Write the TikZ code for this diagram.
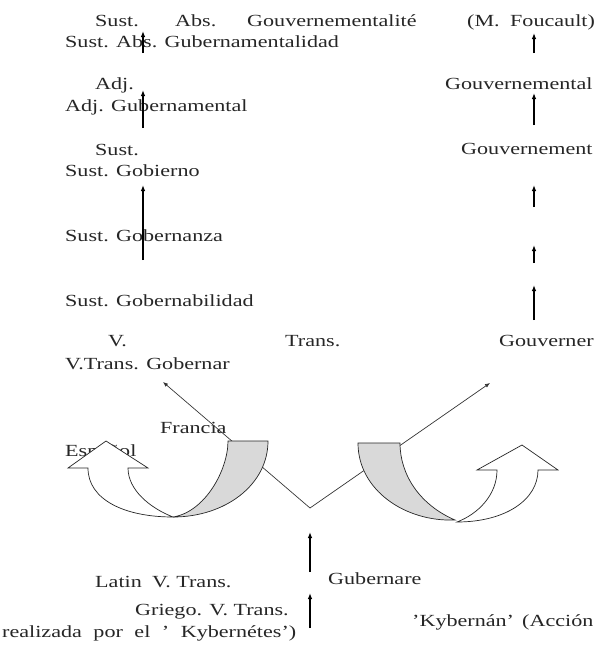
\documentclass[tikz,border=0pt]{standalone}
\usepackage{fontspec}
\setmainfont{Liberation Serif}[FakeStretch=1.3]
\usepackage{tikz}
\usetikzlibrary{arrows.meta}
\tikzset{lbl/.style={anchor=base west, inner sep=0pt, text=black!85, font=\fontsize{17}{20}\selectfont},
    uparr/.style={-{Latex[length=6pt,width=4.5pt]}, line width=1.1pt},
    vline/.style={{Latex[length=5pt,width=4pt]}-{Latex[length=5pt,width=4pt]}, line width=.7pt, black!80},
    band/.style={draw=black!85, line width=.7pt, fill=black!15},
    shaft/.style={draw=black!85, line width=.7pt, fill=white}}

\begin{document}
\begin{tikzpicture}[x=1pt,y=-1pt]
                 \useasboundingbox (0,0) rectangle (595,653);

                 \node[lbl] (s1) at (95,26) {Sust.};
                 \node[lbl] (abs1) at (175,26) {Abs.};
                 \node[lbl] (gouvt) at (247,26) {Gouvernementalité};
                 \node[lbl] (m) at (467,26) {(M.};
                 \node[lbl] (fou) at (510,26) {Foucault)};
                 \node[lbl] (gubt) at (65,47) {Sust. Abs. Gubernamentalidad};

                 \node[lbl] (adj1) at (95,89) {Adj.};
                 \node[lbl] (gouvl) at (445,89) {Gouvernemental};
                 \node[lbl] (gubl) at (65,111) {Adj. Gubernamental};

                 \node[lbl] (s2) at (95,155) {Sust.};
                 \node[lbl] (gouvm) at (461,154) {Gouvernement};
                 \node[lbl] (gob) at (65,176) {Sust. Gobierno};

                 \node[lbl] (gobz) at (65,241) {Sust. Gobernanza};
                 \node[lbl] (gobd) at (65,306) {Sust. Gobernabilidad};

                 \node[lbl] (v1) at (108,346) {V.};
                 \node[lbl] (tr1) at (285,346) {Trans.};
                 \node[lbl] (gouvr) at (499,346) {Gouverner};
                 \node[lbl] (gobr) at (65,369) {V.Trans. Gobernar};

                 \node[lbl] (fr) at (160,433) {Francia};
                 \node[lbl] (es) at (65,456) {Español};

                 \node[lbl] (lat) at (95,587) {Latin};
                 \node[lbl] (vt) at (152,587) {V. Trans.};
                 \node[lbl] (gubr) at (328,584) {Gubernare};
                 \node[lbl] (gr) at (135,615) {Griego. V. Trans.};
                 \node[lbl] (kyb) at (412,626) {'Kybernán'};
                 \node[lbl] (acc) at (522,626) {(Acción};
                 \node[lbl] (real) at (2,637) {\makebox[294pt][s]{realizada por el ' Kybernétes')}};

                 \foreach \x/\ya/\yb in {143/53/31, 143/128/90, 143/260/185,
                     534/53/33, 534/125/93, 534/207/185, 534/263/245, 534/320/285,
                     310/572/532, 310/628/593}
                     \draw[uparr] (\x,\ya) -- (\x,\yb);

                 \coordinate (fra) at (163,382);
                 \coordinate (vtip) at (310,508);
                 \coordinate (gou) at (490,383);
                 \draw[vline] (fra) -- (vtip) -- (gou);

                 \draw[band] (228,441) -- (268,441) .. controls (268,485) and (225,517) .. (173,517)
                     .. controls (205,512) and (228,470) .. (228,441) -- cycle;
                 \draw[shaft] (88,468) .. controls (88,500) and (125,517) .. (173,517)
                     .. controls (150,508) and (128,490) .. (128,468) -- (148,468) -- (106,441) -- (68,468) -- cycle;

                 \draw[band] (358,443) -- (400,443) .. controls (400,475) and (420,505) .. (455,520)
                     .. controls (405,522) and (358,490) .. (358,443) -- cycle;
                 \draw[shaft] (497,470) -- (477,470) -- (522,445) -- (558,470) -- (538,470)
                     .. controls (538,500) and (505,522) .. (457,522) .. controls (478,514) and (497,495) .. (497,470) -- cycle;
\end{tikzpicture}
\end{document}
